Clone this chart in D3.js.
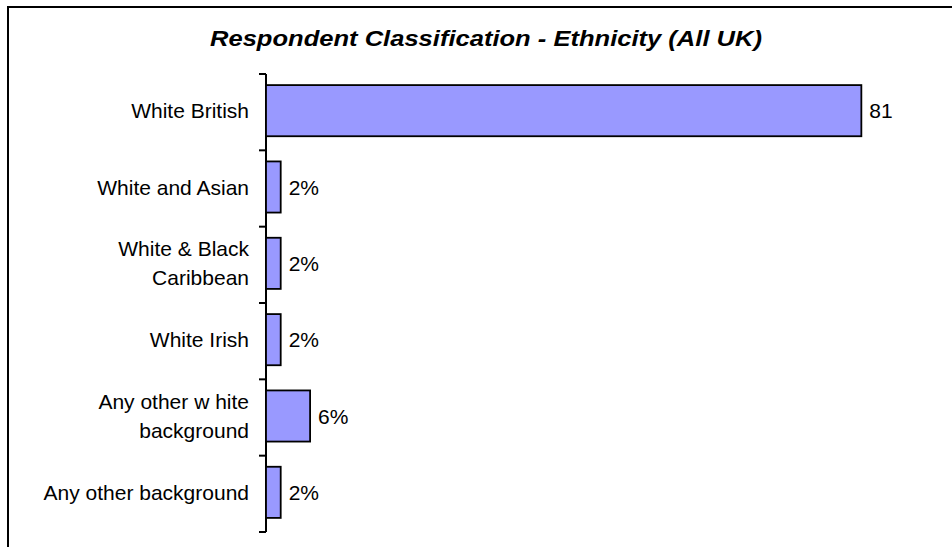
<!DOCTYPE html>
<html>
<head>
<meta charset="utf-8">
<script src="https://cdn.jsdelivr.net/npm/d3@7"></script>
<style>
  body { margin: 0; background: #fff; }
  text { font-family: Arial, "Liberation Sans", sans-serif; fill: #000; }
</style>
</head>
<body>
<div id="chart"></div>
<script>
(function () {

    var width = 952,
        height = 547;

    var titleText = "Respondent Classification - Ethnicity (All UK)";
    // each category is a list of lines, as wrapped in the picture
    var categories = [
        ["White British"],
        ["White and Asian"],
        ["White & Black", "Caribbean"],
        ["White Irish"],
        ["Any other w hite", "background"],
        ["Any other background"]
    ];
    var values = [81, 2, 2, 2, 6, 2];
    var valueLabels = ["81", "2%", "2%", "2%", "6%", "2%"];

    var svg = d3.select("#chart").append("svg")
        .attr("width", width)
        .attr("height", height);

    svg.append("rect")
        .attr("width", width)
        .attr("height", height)
        .attr("fill", "#fff");

    // outer frame (runs off the right and bottom edges)
    svg.append("rect")
        .attr("x", 8)
        .attr("y", 7)
        .attr("width", 1200)
        .attr("height", 1200)
        .attr("fill", "none")
        .attr("stroke", "#000")
        .attr("stroke-width", 2);

    svg.append("text")
        .attr("x", 210)
        .attr("y", 45.5)
        .attr("textLength", 552)
        .attr("lengthAdjust", "spacingAndGlyphs")
        .style("font-size", "22.5px")
        .style("font-weight", "bold")
        .style("font-style", "italic")
        .text(titleText);

    var idx = d3.range(categories.length);

    var y = d3.scaleBand()
        .domain(idx)
        .range([74, 532])
        .paddingInner(0.33)
        .paddingOuter(0.165);

    var x = d3.scaleLinear()
        .domain([0, 100])
        .range([266, 1001]);

    var g = svg.append("g");

    // category axis line and ticks between bands
    g.append("line")
        .attr("x1", x(0)).attr("x2", x(0))
        .attr("y1", 74).attr("y2", 532)
        .attr("stroke", "#000")
        .attr("stroke-width", 2);

    var step = y.step();
    g.selectAll(".tick")
        .data(d3.range(categories.length + 1))
        .enter().append("line")
        .attr("class", "tick")
        .attr("x1", x(0) - 7).attr("x2", x(0))
        .attr("y1", d => 74 + d * step)
        .attr("y2", d => 74 + d * step)
        .attr("stroke", "#000")
        .attr("stroke-width", 2);

    g.selectAll(".bar")
        .data(idx)
        .enter().append("rect")
        .attr("class", "bar")
        .attr("x", x(0))
        .attr("y", d => y(d) - 1.5)
        .attr("width", d => x(values[d]) - x(0))
        .attr("height", y.bandwidth())
        .attr("fill", "#9999ff")
        .attr("stroke", "#000")
        .attr("stroke-width", 1.8);

    g.selectAll(".val")
        .data(idx)
        .enter().append("text")
        .attr("class", "val")
        .attr("x", d => x(values[d]) + 8)
        .attr("y", d => y(d) - 1.5 + y.bandwidth() / 2 + 7.5)
        .style("font-size", "21px")
        .text(d => valueLabels[d]);

    var lineH = 29;
    var labels = g.selectAll(".cat")
        .data(idx)
        .enter().append("text")
        .attr("class", "cat")
        .attr("text-anchor", "end")
        .style("font-size", "21px");

    labels.each(function (d) {
        var lines = categories[d];
        var cy = y(d) - 1.5 + y.bandwidth() / 2;
        var first = cy + 7.5 - (lines.length - 1) * lineH / 2;
        d3.select(this).selectAll("tspan")
            .data(lines)
            .enter().append("tspan")
            .attr("x", 249)
            .attr("y", (l, i) => first + i * lineH)
            .text(l => l);
    });
})();
</script>
</body>
</html>
